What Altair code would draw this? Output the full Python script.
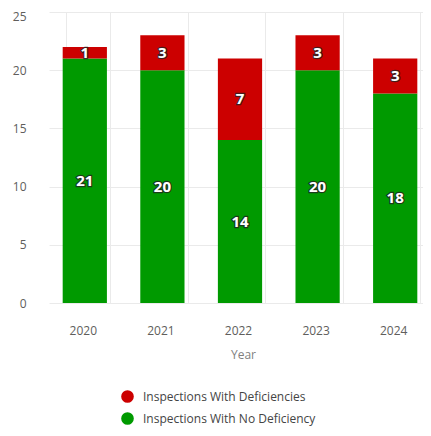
import altair as alt
import pandas as pd

years = ["2020", "2021", "2022", "2023", "2024"]
no_deficiency = [21, 20, 14, 20, 18]
with_deficiencies = [1, 3, 7, 3, 3]

cat_def = "Inspections With Deficiencies"
cat_no = "Inspections With No Deficiency"

rows = []
for y, n, d in zip(years, no_deficiency, with_deficiencies):
    rows.append({"Year": y, "Category": cat_no, "Count": n, "ord": 0})
    rows.append({"Year": y, "Category": cat_def, "Count": d, "ord": 1})
df = pd.DataFrame(rows)

FONT = "Open Sans"

xscale = alt.Scale(domain=years, range=[6, 394], paddingInner=0.43, paddingOuter=0.215)
yscale = alt.Scale(domain=[0, 25], nice=False)

base = alt.Chart(df).transform_stack(
    stack="Count", groupby=["Year"], sort=[alt.SortField("ord", order="ascending")], as_=["y0", "y1"]
).transform_calculate(mid="(datum.y0 + datum.y1) / 2")

x_enc = alt.X(
    "Year:N",
    scale=xscale,
    axis=alt.Axis(
        title="Year", grid=True, tickBand="extent", domain=False, ticks=False,
        labelAngle=0, labelPadding=22, labelOffset=-5, labelFont=FONT, labelFontSize=12,
        labelColor="#605E5C", titleFont=FONT, titleFontSize=12, titleFontWeight="normal",
        titleColor="#7f7f7f", titlePadding=13, gridColor="#EAEAEA",
    ),
)

bars = base.mark_bar(xOffset=-3).encode(
    x=x_enc,
    y=alt.Y(
        "y0:Q",
        scale=yscale,
        axis=alt.Axis(
            title=None, values=[0, 5, 10, 15, 20, 25], domain=False, ticks=False,
            labelPadding=17, labelFont=FONT, labelFontSize=12, labelColor="#605E5C",
            labelOffset={"condition": {"test": "datum.value === 25", "value": 4}, "value": 0},
            gridColor="#EAEAEA",
        ),
    ),
    y2="y1:Q",
    color=alt.Color(
        "Category:N",
        scale=alt.Scale(domain=[cat_def, cat_no], range=["#CC0000", "#009A00"]),
        legend=alt.Legend(
            title=None, orient="none", legendX=78, legendY=378, symbolType="circle",
            symbolSize=160, symbolStrokeWidth=0, labelFont=FONT, labelFontSize=12,
            labelColor="#444444", rowPadding=9, labelOffset=9, labelLimit=0,
        ),
    ),
)

halo = base.mark_text(
    xOffset=-3, font=FONT, fontSize=15, fontWeight="bold", color="white",
    stroke="#222222", strokeWidth=2.5, strokeOpacity=0.8,
).encode(
    x=alt.X("Year:N", scale=xscale),
    y=alt.Y("mid:Q", scale=yscale),
    text="Count:Q",
)
labels = base.mark_text(
    xOffset=-3, font=FONT, fontSize=15, fontWeight="bold", color="white",
).encode(
    x=alt.X("Year:N", scale=xscale),
    y=alt.Y("mid:Q", scale=yscale),
    text="Count:Q",
)

chart = alt.layer(bars, halo, labels).properties(
    width=380,
    height=291,
    autosize=alt.AutoSizeParams(type="none"),
    padding={"left": 35, "top": 4, "right": 0, "bottom": 125},
).configure_view(stroke=None)

chart.save("out.html", embed_options={"renderer": "svg", "actions": False})
